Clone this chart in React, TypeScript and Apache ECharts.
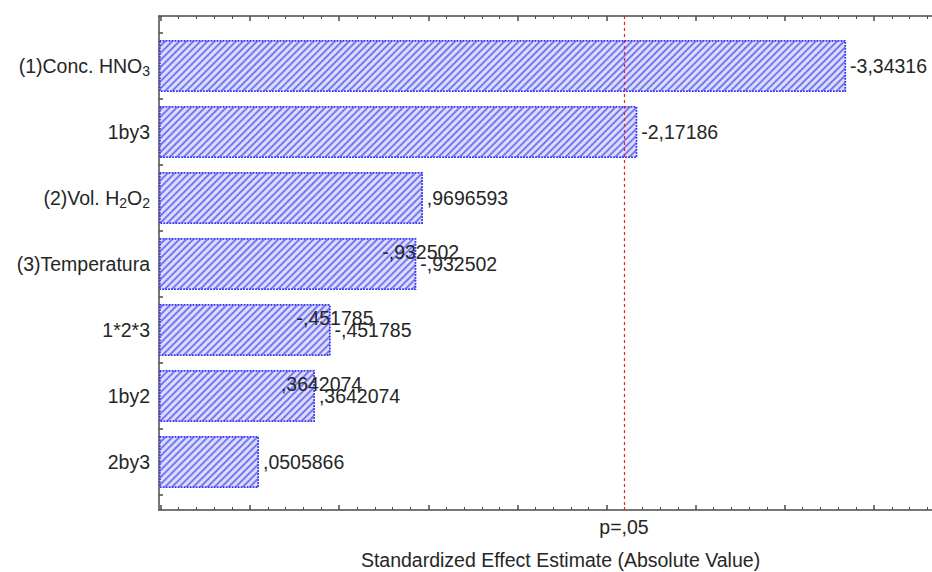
import React, { useEffect, useRef } from "react";
import * as echarts from "echarts";

// ---- data ----
const categories = [
  "(1)Conc. HNO{sub|3}",
  "1by3",
  "(2)Vol. H{sub|2}O{sub|2}",
  "(3)Temperatura",
  "1*2*3",
  "1by2",
  "2by3",
];
const effects = [-3.34316, -2.17186, 0.9696593, -0.932502, -0.451785, 0.3642074, 0.0505866];
// overlapping duplicate labels printed by the original software
const echoEffects = [null, null, null, -0.932502, -0.451785, 0.3642074, null];
const pCritical = 2.0976;
const pLabel = "p=,05";
const axisTitle = "Standardized Effect Estimate (Absolute Value)";

const X_MIN = -0.51;
const X_MAX = 3.825;

const fmt = (v: number) => {
  let s = String(v);
  s = s.replace(/^(-?)0\./, "$1.");
  return s.replace(".", ",");
};

const FONT = "'Liberation Sans', Arial, sans-serif";
const TXT = "#262626";
const AX = "#4a4a4a";
const FS = 19.5;

function ticks(from: number, to: number, step: number) {
  const out: number[] = [];
  for (let k = Math.round(from / step); k * step <= to + 1e-9; k++) out.push(+(k * step).toFixed(4));
  return out;
}

export default function App() {
  const ref = useRef<HTMLDivElement>(null);
  useEffect(() => {
    if (!ref.current) return;
    const chart = echarts.init(ref.current, undefined, { renderer: "svg" });
    const majorX = ticks(-0.5, X_MAX, 0.5);
    const minorX = ticks(-0.5, X_MAX, 0.1).filter((v) => !majorX.includes(v));
    const majorY = ticks(0, 7, 1);
    const minorY = ticks(0, 7, 0.25).filter((v) => !majorY.includes(v));
    const Y_MIN = -17 / 66;
    const Y_MAX = 7 + 15 / 66;
    const hiddenAxis = {
      axisLine: { show: false },
      axisTick: { show: false },
      axisLabel: { show: false },
      splitLine: { show: false },
    };
    const option: any = {
      animation: false,
      backgroundColor: "#ffffff",
      textStyle: { fontFamily: FONT },
      grid: [
        { left: 159, right: 0, top: 33, bottom: 77, containLabel: false, outerBoundsMode: "none" },
        { left: 159, right: 0, top: 16, bottom: 62, containLabel: false, outerBoundsMode: "none" },
      ],
      xAxis: [
        { gridIndex: 0, type: "value", min: X_MIN, max: X_MAX, startValue: X_MIN, ...hiddenAxis },
        {
          gridIndex: 1,
          type: "value",
          position: "bottom",
          min: X_MIN,
          max: X_MAX,
          axisLine: { show: true, onZero: false, lineStyle: { color: AX, width: 1.5 } },
          axisTick: { show: true, inside: true, length: 5, customValues: majorX, lineStyle: { color: AX, width: 1.5 } },
          axisLabel: {
            show: true,
            customValues: [pCritical],
            formatter: () => pLabel,
            margin: 7,
            color: TXT,
            fontSize: FS,
            fontFamily: FONT,
          },
          splitLine: { show: false },
          name: axisTitle,
          nameLocation: "middle",
          nameGap: 40,
          nameTextStyle: { color: TXT, fontSize: FS, fontFamily: FONT, padding: [0, 0, 0, 30] },
        },
        {
          gridIndex: 1,
          type: "value",
          position: "bottom",
          min: X_MIN,
          max: X_MAX,
          axisLine: { show: false, onZero: false },
          axisTick: { show: true, inside: true, length: 3, customValues: minorX, lineStyle: { color: AX, width: 1 } },
          axisLabel: { show: false },
          splitLine: { show: false },
        },
        {
          gridIndex: 1,
          type: "value",
          position: "top",
          min: X_MIN,
          max: X_MAX,
          axisLine: { show: true, onZero: false, lineStyle: { color: AX, width: 1.5 } },
          axisTick: { show: true, inside: true, length: 5, customValues: majorX, lineStyle: { color: AX, width: 1.5 } },
          axisLabel: { show: false },
          splitLine: { show: false },
        },
        {
          gridIndex: 1,
          type: "value",
          position: "top",
          min: X_MIN,
          max: X_MAX,
          axisLine: { show: false, onZero: false },
          axisTick: { show: true, inside: true, length: 3, customValues: minorX, lineStyle: { color: AX, width: 1 } },
          axisLabel: { show: false },
          splitLine: { show: false },
        },
      ],
      yAxis: [
        {
          gridIndex: 0,
          type: "category",
          inverse: true,
          data: categories,
          axisLine: { show: false },
          axisTick: { show: false },
          splitLine: { show: false },
          axisLabel: {
            margin: 9,
            color: TXT,
            fontSize: FS,
            fontFamily: FONT,
            rich: {
              sub: { fontSize: 14, padding: [10, 0, 0, 0], color: TXT, fontFamily: FONT },
            },
          },
        },
        {
          gridIndex: 1,
          type: "value",
          inverse: true,
          min: Y_MIN,
          max: Y_MAX,
          position: "left",
          axisLine: { show: true, onZero: false, lineStyle: { color: AX, width: 1.5 } },
          axisTick: { show: true, inside: true, length: 4, customValues: majorY, lineStyle: { color: AX, width: 1.5 } },
          axisLabel: { show: false },
          splitLine: { show: false },
        },
        {
          gridIndex: 1,
          type: "value",
          inverse: true,
          min: Y_MIN,
          max: Y_MAX,
          position: "left",
          axisLine: { show: false, onZero: false },
          axisTick: { show: true, inside: true, length: 3, customValues: minorY, lineStyle: { color: AX, width: 1 } },
          axisLabel: { show: false },
          splitLine: { show: false },
        },
      ],
      series: [
        {
          type: "bar",
          xAxisIndex: 0,
          yAxisIndex: 0,
          barCategoryGap: "21%",
          data: effects.map((v) => Math.abs(v)),
          itemStyle: {
            color: "#dcdcfc",
            borderColor: "#3333f2",
            borderWidth: 1.5,
            borderType: "dotted",
            decal: {
              symbol: "rect",
              symbolSize: 1,
              dashArrayX: [1, 0],
              dashArrayY: [1.4, 2.4],
              rotation: -Math.PI / 4,
              color: "#7878f3",
            },
          },
          label: {
            show: true,
            position: "right",
            distance: 4,
            color: TXT,
            fontSize: FS,
            fontFamily: FONT,
            formatter: (p: any) => fmt(effects[p.dataIndex]),
          },
        },
        {
          type: "scatter",
          xAxisIndex: 0,
          yAxisIndex: 0,
          symbolSize: 0,
          itemStyle: { opacity: 1 },
          data: echoEffects
            .map((v, i) => (v === null ? null : [Math.abs(v), i, v]))
            .filter((d) => d !== null),
          label: {
            show: true,
            position: "right",
            distance: 4,
            offset: [-38, -12],
            color: TXT,
            opacity: 1,
            fontSize: FS,
            fontFamily: FONT,
            formatter: (p: any) => fmt(p.data[2]),
          },
        },
        {
          type: "scatter",
          xAxisIndex: 1,
          yAxisIndex: 1,
          data: [],
          markLine: {
            silent: true,
            symbol: "none",
            label: { show: false },
            lineStyle: { color: "#e8202a", type: [3, 3], width: 1.2 },
            data: [{ xAxis: pCritical }],
          },
        },
      ],
    };
    chart.setOption(option);
    return () => chart.dispose();
  }, []);
  return <div ref={ref} style={{ width: 932, height: 572, position: "absolute", left: 0, top: 0 }} />;
}
